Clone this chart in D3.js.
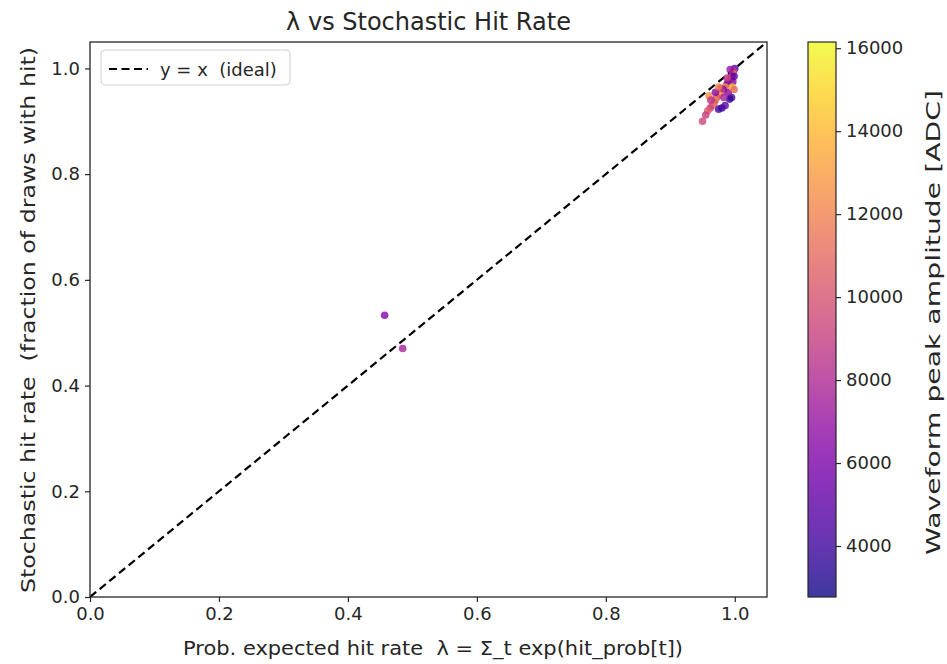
<!DOCTYPE html>
<html><head><meta charset="utf-8">
<script src="https://cdn.jsdelivr.net/npm/d3@7"></script>
<style>body{margin:0;background:#fff;} text{font-family:"DejaVu Sans",sans-serif;white-space:pre;}</style>
</head><body>
<svg id="c" width="947" height="664"></svg>
<script>
// Data
const lam = [0.457, 0.485,
  1.000, 0.998, 0.997, 0.995, 0.993, 0.990, 0.988, 0.985, 0.982, 0.980,
  0.978, 0.975, 0.972, 0.970, 0.968, 0.965, 0.962, 0.960, 0.958, 0.955,
  0.950, 0.980, 0.975, 0.992, 0.995, 0.985, 0.990, 0.983, 0.997, 0.999,
  0.996, 0.988, 0.993, 0.999, 0.970, 0.963, 0.975];
const rate = [0.533, 0.470,
  1.000, 0.995, 0.990, 0.985, 0.980, 0.975, 0.970, 0.965, 0.960, 0.955,
  0.962, 0.950, 0.945, 0.940, 0.935, 0.930, 0.925, 0.948, 0.920, 0.912,
  0.900, 0.925, 0.923, 0.942, 0.945, 0.930, 0.955, 0.945, 0.975, 0.985,
  0.965, 0.982, 0.998, 0.960, 0.955, 0.940, 0.965];
const amp = [6300, 7600,
  4500, 9000, 12000, 7000, 13000, 11000, 5500, 12500, 6000, 10500,
  8000, 13500, 9500, 12000, 10000, 11500, 9000, 12500, 10500, 9000,
  9500, 3800, 4200, 3500, 4000, 5000, 6500, 7500, 6000, 5000,
  14000, 8500, 7000, 11000, 6500, 8500, 12000];
const xTicks = [0.0, 0.2, 0.4, 0.6, 0.8, 1.0];
const yTicks = [0.0, 0.2, 0.4, 0.6, 0.8, 1.0];
const cTicks = [4000, 6000, 8000, 10000, 12000, 14000, 16000];
const ampRange = [2770, 16150];

const svg = d3.select("#c");
const L = 90, R = 767, T = 42, B = 597;
const ALPHA = 0.8;
const x = d3.scaleLinear().domain([0, 1.05]).range([L, R]);
const y = d3.scaleLinear().domain([0, 1.05]).range([B, T]);
const color = d3.scaleSequential(d3.interpolatePlasma).domain(ampRange);
const ink = "#262626";

const defs = svg.append("defs");
defs.append("clipPath").attr("id","clip")
  .append("rect").attr("x",L).attr("y",T).attr("width",R-L).attr("height",B-T);

// dashed y=x
svg.append("line").attr("clip-path","url(#clip)")
  .attr("x1",x(0)).attr("y1",y(0)).attr("x2",x(1.05)).attr("y2",y(1.05))
  .attr("stroke","#000").attr("stroke-width",2.2).attr("stroke-dasharray","8,4.5");

// points
svg.append("g").attr("clip-path","url(#clip)").selectAll("circle")
  .data(d3.range(lam.length)).join("circle")
  .attr("cx", i=>x(lam[i])).attr("cy", i=>y(rate[i])).attr("r",3.8)
  .attr("fill", i=>color(amp[i])).attr("fill-opacity",ALPHA);

// axes
const fmt = d3.format(".1f");
const gx = svg.append("g").attr("transform",`translate(0,${B})`)
  .call(d3.axisBottom(x).tickValues(xTicks).tickFormat(fmt).tickSize(5).tickPadding(5));
const gy = svg.append("g").attr("transform",`translate(${L},0)`)
  .call(d3.axisLeft(y).tickValues(yTicks).tickFormat(fmt).tickSize(5).tickPadding(5));
[gx,gy].forEach(g=>{
  g.select(".domain").remove();
  g.selectAll("text").attr("font-size",18).attr("fill",ink);
  g.selectAll("line").attr("stroke",ink).attr("stroke-width",1.2);
});
svg.append("rect").attr("x",L).attr("y",T).attr("width",R-L).attr("height",B-T)
  .attr("fill","none").attr("stroke",ink).attr("stroke-width",1.3);

// titles
svg.append("text").attr("x",(L+R)/2).attr("y",30).attr("text-anchor","middle")
  .attr("font-size",24).attr("fill",ink).text("λ vs Stochastic Hit Rate");
svg.append("text").attr("x",433).attr("y",655).attr("text-anchor","middle")
  .attr("font-size",20).attr("fill",ink)
  .attr("textLength",500).attr("lengthAdjust","spacingAndGlyphs")
  .text("Prob. expected hit rate  λ = Σ_t exp(hit_prob[t])");
svg.append("text").attr("transform",`translate(35,${(47+593)/2}) rotate(-90)`).attr("text-anchor","middle")
  .attr("font-size",19).attr("fill",ink)
  .attr("textLength",546).attr("lengthAdjust","spacingAndGlyphs")
  .text("Stochastic hit rate  (fraction of draws with hit)");

// legend
const lg = svg.append("g");
lg.append("rect").attr("x",101).attr("y",50).attr("width",189).attr("height",35).attr("rx",4)
  .attr("fill","#fff").attr("fill-opacity",0.8).attr("stroke","#d0d0d0");
lg.append("line").attr("x1",109).attr("x2",148).attr("y1",69).attr("y2",69)
  .attr("stroke","#000").attr("stroke-width",2.2).attr("stroke-dasharray","8,4.5");
lg.append("text").attr("x",160).attr("y",76).attr("font-size",18).attr("fill",ink).text("y = x  (ideal)");

// colorbar
const CL = 808, CW = 28;
const cy = d3.scaleLinear().domain(ampRange).range([B, T]);
const grad = defs.append("linearGradient").attr("id","grad")
  .attr("x1","0").attr("y1","1").attr("x2","0").attr("y2","0");
d3.range(0,1.0001,0.05).forEach(t=>{
  grad.append("stop").attr("offset",t).attr("stop-color",d3.interpolatePlasma(t)).attr("stop-opacity",ALPHA);
});
svg.append("rect").attr("x",CL).attr("y",T).attr("width",CW).attr("height",B-T)
  .attr("fill","url(#grad)").attr("stroke",ink).attr("stroke-width",1.2);
const gc = svg.append("g").attr("transform",`translate(${CL+CW},0)`)
  .call(d3.axisRight(cy).tickValues(cTicks).tickFormat(d3.format("d")).tickSize(5).tickPadding(5));
gc.select(".domain").remove();
gc.selectAll("text").attr("font-size",18).attr("fill",ink);
gc.selectAll("line").attr("stroke",ink).attr("stroke-width",1.2);
svg.append("text").attr("transform",`translate(940,${(90+555)/2}) rotate(-90)`).attr("text-anchor","middle")
  .attr("font-size",19).attr("fill",ink)
  .attr("textLength",465).attr("lengthAdjust","spacingAndGlyphs")
  .text("Waveform peak amplitude [ADC]");
</script>
</body></html>
